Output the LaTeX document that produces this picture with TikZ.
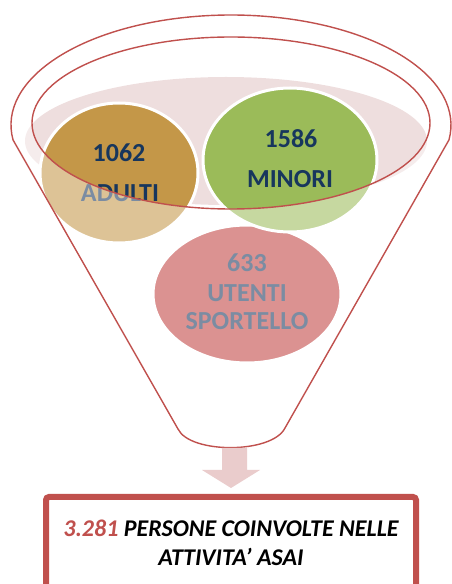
\documentclass[tikz,border=0pt]{standalone}
\usepackage{fontspec}
\setmainfont{Carlito}
\definecolor{funnelred}{RGB}{192,80,77}
\definecolor{navy}{RGB}{23,54,93}
\definecolor{gold}{RGB}{196,151,72}
\definecolor{ogreen}{RGB}{155,187,89}
\definecolor{sred}{RGB}{192,64,62}
\definecolor{bgpink}{RGB}{238,222,222}
\definecolor{arrowpink}{RGB}{234,204,204}
\begin{document}
\begin{tikzpicture}[x=1pt,y=1pt,
  bubble/.style={fill=#1, draw=white, line width=3pt},
  bubtext/.style={font=\fontsize{26}{29}\selectfont\bfseries, text=navy, anchor=base, inner sep=0pt},
  boxtext/.style={font=\fontsize{24}{28}\selectfont\bfseries\itshape, text=black, anchor=base, inner sep=0pt},
  funnelline/.style={draw=funnelred, line width=1.4pt}]
\useasboundingbox (0,0) rectangle (451,584);
% background pale ellipse
\fill[bgpink] (226,443) ellipse[x radius=201, y radius=64];
% bubbles
\path[bubble=sred] (247,290) ellipse[x radius=94, y radius=69];
\path[bubble=gold] (119,411) ellipse[x radius=79, y radius=70];
\path[bubble=ogreen] (290,424) ellipse[x radius=87, y radius=72];
% texts
\node[bubtext] (n1062) at (119,422) {1062};
\node[bubtext] (adulti) at (120,382) {ADULTI};
\node[bubtext] (n1586) at (291,436) {1586};
\node[bubtext] (minori) at (290,396) {MINORI};
\node[bubtext] (n633) at (247,312) {633};
\node[bubtext] (utenti) at (247,282) {UTENTI};
\node[bubtext] (sportello) at (247,254) {SPORTELLO};
% wash outside inner ellipse
\fill[white, fill opacity=0.43, even odd rule] (0,0) rectangle (451,584)
  (231,461) ellipse[x radius=199, y radius=86];
% funnel
\draw[funnelline, line join=round] (231,459) ++(187.8:220 and 110)
  arc[start angle=187.8, end angle=-7.8, x radius=220, y radius=110]
  -- (285,156) .. controls (272,130) and (190,130) .. (178,155) -- cycle;
\draw[funnelline] (231,461) ellipse[x radius=199, y radius=86];
% arrow
\fill[arrowpink] (222,136) -- (222,114) -- (202,114) -- (231,96) -- (260,114)
  -- (247,114) -- (247,136) -- cycle;
% result box
\node[draw=funnelred, line width=6pt, rounded corners=3pt, minimum width=370pt,
  minimum height=130pt, anchor=north] (box) at (231,90) {};
\node[boxtext] (line1) at (231,47) {\textcolor{funnelred}{3.281} PERSONE COINVOLTE NELLE};
\node[boxtext] (line2) at (231,19) {ATTIVITA’ ASAI};
\end{tikzpicture}
\end{document}
